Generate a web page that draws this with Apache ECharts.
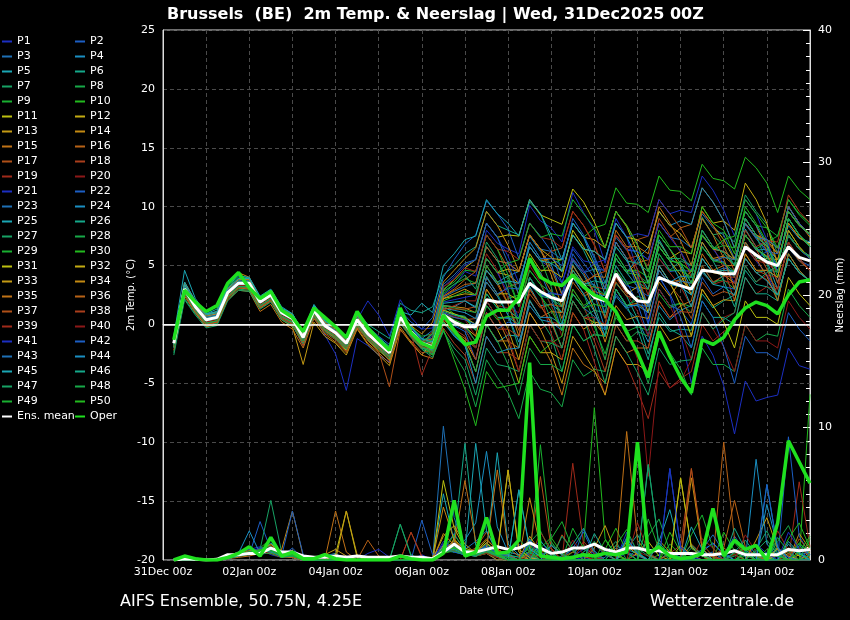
<!DOCTYPE html>
<html><head><meta charset="utf-8">
<script src="https://cdn.jsdelivr.net/npm/echarts@6/dist/echarts.min.js"></script>
<style>html,body{margin:0;padding:0;background:#000;}#c{width:850px;height:620px;}</style>
</head><body><div id="c"></div>
<script>
// ---------- axes / labels ----------
const hours = [6,12,18,24,30,36,42,48,54,60,66,72,78,84,90,96,102,108,114,120,126,132,138,144,150,156,162,168,174,180,186,192,198,204,210,216,222,228,234,240,246,252,258,264,270,276,282,288,294,300,306,312,318,324,330,336,342,348,354,360];
const xTickLabels = ['31Dec 00z','02Jan 00z','04Jan 00z','06Jan 00z','08Jan 00z','10Jan 00z','12Jan 00z','14Jan 00z'];
const zeroLine = 0;
const memberColors = ['#1c2fc2','#1c5ec4','#1e70b6','#1a8fc2','#1aa6b4','#14a88a','#17a264','#17a848','#19b030','#22ba1e','#bcc010','#c4ac12','#c49a14','#c48a12','#c07216','#b86216','#b05018','#aa3e1c','#a02a1a','#8c1818'];

// ---------- ensemble mean / oper ----------
const meanT = [-1.6,3.0,1.5,0.4, 0.6,2.7,3.5,3.5, 1.9,2.5,1.0,0.5, -1.1,1.2,-0.1,-0.7, -1.6,0.4,-0.8,-1.6, -2.4,0.6,-0.6,-1.6, -1.9,0.8,0.2,-0.2, -0.2,2.1,1.9,1.9, 1.9,3.5,2.8,2.3, 2.0,4.1,3.3,2.3, 2.0,4.3,2.9,2.0, 1.9,4.0,3.6,3.3, 3.0,4.6,4.5,4.3, 4.3,6.6,5.9,5.3, 5.0,6.6,5.7,5.4];
const operT = [-1.3,2.9,1.9,1.1, 1.6,3.5,4.4,3.1, 2.2,2.8,1.2,0.6, -0.6,1.4,0.6,-0.2, -1.1,1.1,-0.3,-1.3, -2.2,1.4,-0.7,-1.6, -2.0,0.8,-0.5,-1.7, -1.5,0.7,1.2,1.2, 2.3,5.6,4.0,3.5, 3.3,4.2,3.2,2.5, 2.1,1.1,-0.7,-2.4, -4.5,-0.6,-2.7,-4.5, -5.8,-1.3,-1.7,-1.1, 0.4,1.4,1.9,1.6, 0.9,2.5,3.6,3.8];
const meanP = [0,0.1,0.05,0, 0.05,0.4,0.4,0.5, 0.5,0.9,0.6,0.6, 0.3,0.2,0.2,0.3, 0.2,0.3,0.2,0.2, 0.2,0.3,0.2,0.2, 0.1,0.6,1.2,0.6, 0.6,0.8,1.0,0.8, 0.9,1.3,0.9,0.5, 0.6,0.9,0.9,1.2, 0.8,0.6,0.9,0.9, 0.7,0.7,0.5,0.5, 0.5,0.4,0.4,0.5, 0.7,0.4,0.4,0.4, 0.4,0.8,0.7,0.8];
const operP = [0,0.3,0.1,0, 0,0.2,0.5,1.0, 0.3,1.7,0.3,0.6, 0.1,0.1,0.4,0.1, 0,0,0,0, 0,0.3,0.1,0, 0,0.5,4.5,0.3, 0.6,3.2,0.5,0.6, 1.5,14.9,0.3,0.2, 0.1,0.2,0.4,0.3, 0.5,0.4,0.6,8.9, 0.5,1.0,0.3,0.1, 0.2,0.5,3.9,0.3, 1.5,0.8,1.1,0, 2.8,9.0,7.4,5.8];

// ---------- member 2m temperature ----------
const tP1 = [-1.2,3.4,1.8,0.6, 0.9,3.0,3.8,3.2, 1.6,2.2,0.6,0.0, -1.8,0.8,-0.9,-2.5, -5.6,-1.2,-1.8,-2.6, -3.2,0.2,-0.8,-1.5, -1.0,2.5,3.2,4.5, 4.1,8.0,6.9,6.4, 6.0,10.1,8.8,8.2, 7.0,11.2,9.5,8.0, 5.2,9.0,7.4,4.6, 0.2,4.1,2.5,-0.8, -5.0,-1.0,-2.6,-5.2, -9.3,-4.8,-6.5,-6.2, -6.0,-2.0,-3.5,-3.8];
const tP2 = [-1.9,2.8,1.2,0.2, 0.5,2.5,3.3,3.6, 2.1,2.7,1.3,0.8, -0.8,1.6,0.3,-0.2, -1.1,0.9,-0.2,-1.0, -1.7,1.2,0.2,-0.4, 0.6,4.0,5.5,6.8, 7.6,10.5,9.4,8.1, 5.6,8.6,7.5,6.2, 3.5,6.4,5.2,4.0, 1.5,4.6,3.3,3.0, 2.4,5.6,4.5,4.6, 4.5,7.5,6.4,6.2, 5.5,8.6,7.3,6.1, 3.6,6.5,5.4,5.0];
const tP3 = [-1.3,3.3,1.7,0.9, 1.0,3.1,3.9,3.7, 2.2,2.9,1.2,0.6, -0.9,1.5,0.1,-0.5, -1.2,0.7,-0.4,-1.3, -2.0,0.9,-0.3,-1.2, -1.6,1.0,0.3,-0.3, -1.4,1.6,0.6,0.5, 0.6,3.4,2.4,2.6, 2.5,5.5,4.4,4.7, 4.6,7.4,6.3,6.2, 5.5,8.6,7.4,7.2, 6.5,9.4,8.2,7.6, 5.6,8.5,7.3,6.3, 4.4,7.6,6.4,5.8];
const tP4 = [-2.0,2.6,1.0,-0.2, 0.2,2.4,3.2,3.1, 1.5,2.1,0.6,0.2, -1.5,0.9,-0.4,-1.0, -2.1,0.1,-1.2,-2.0, -2.8,0.3,-1.0,-2.0, -2.3,1.6,1.5,2.0, 1.4,4.6,3.6,4.1, 4.5,7.5,6.2,5.1, 2.6,5.4,4.2,2.6, -0.4,2.4,1.3,0.4, -1.5,1.6,0.4,1.2, 1.6,4.4,3.5,4.2, 4.5,7.6,6.3,6.4, 5.5,8.4,7.3,7.0];
const tP5 = [-1.0,4.6,2.2,0.9, 1.3,3.4,4.2,3.9, 2.3,2.8,1.1,0.3, -1.4,1.0,-0.3,-0.9, -1.9,0.2,-1.0,-1.8, -2.6,0.4,-0.8,-1.9, -2.5,0.2,-1.0,-1.8, -4.0,0.0,-1.5,-0.9, -1.0,3.2,1.6,1.7, 1.0,5.1,3.5,3.4, 2.0,6.0,4.6,4.4, 3.0,7.2,5.6,5.0, 3.0,7.0,5.5,5.3, 4.0,8.1,6.6,5.4, 3.0,7.0,5.6,4.6];
const tP6 = [-1.5,3.1,1.6,0.5, 0.7,2.9,3.7,3.4, 1.8,2.3,0.8,0.4, -1.0,1.4,0.3,-0.3, -1.0,1.1,0.0,-0.6, -1.2,1.8,1.2,1.0, 1.5,4.2,5.0,6.0, 6.6,9.6,8.4,8.0, 7.6,10.4,9.4,7.2, 4.5,7.6,6.3,4.4, 0.6,3.5,2.4,0.5, -2.5,0.6,-0.6,-0.4, -0.5,2.6,1.4,2.0, 2.5,5.6,4.4,4.6, 4.5,7.5,6.4,5.8];
const tP7 = [-2.4,2.2,0.9,-0.1, 0.1,2.2,3.0,2.9, 1.4,2.0,0.5,0.0, -1.6,0.7,-0.5,-1.1, -1.9,0.0,-1.1,-1.9, -2.7,0.1,-1.1,-2.0, -2.4,1.3,0.8,0.5, 0.0,4.1,2.6,0.8, -2.0,2.1,0.5,-1.0, -4.0,0.0,-1.4,-0.8, -1.0,3.0,1.5,2.4, 2.0,6.0,4.6,5.4, 5.0,9.1,7.6,7.8, 7.0,11.0,9.6,8.5, 6.0,10.0,8.5,7.6];
const tP8 = [-1.8,2.9,1.3,0.2, 0.4,2.5,3.3,3.2, 1.6,2.2,0.7,0.1, -1.3,1.0,-0.3,-1.0, -1.8,0.2,-1.0,-1.9, -2.7,0.3,-1.0,-2.1, -2.6,-0.5,-2.5,-4.0, -7.0,-3.0,-4.5,-5.8, -8.0,-4.0,-5.5,-5.8, -7.0,-3.0,-4.4,-3.8, -4.0,0.0,-1.4,-0.6, -1.0,3.0,1.6,1.8, 1.0,5.0,3.6,3.8, 3.0,7.0,5.6,5.6, 5.0,9.0,7.6,6.8];
const tP9 = [-1.7,3.2,1.5,0.4, 0.8,3.0,3.6,3.6, 2.0,2.6,1.0,0.4, -1.2,1.1,-0.2,-0.8, -1.7,0.3,-0.9,-1.6, -2.3,0.8,-0.3,-1.0, -0.8,2.6,3.4,3.9, 3.5,6.6,5.4,3.8, 1.5,4.6,3.4,1.6, -0.5,2.6,1.4,-0.2, -2.5,0.6,-0.6,-0.2, -0.5,2.6,1.4,1.8, 1.5,4.6,3.4,4.2, 4.5,7.6,6.4,7.0, 7.5,10.6,9.3,8.4];
const tP10 = [-1.4,3.3,1.9,0.8, 1.0,3.2,4.0,3.9, 2.3,2.8,1.3,0.9, -0.7,1.6,0.4,-0.2, -1.1,0.9,-0.2,-1.1, -1.9,1.0,-0.1,-1.2, -1.4,1.6,0.9,0.5, -0.5,2.6,1.4,2.2, 2.5,5.6,4.4,5.2, 5.5,8.6,7.4,8.2, 8.5,11.6,10.3,10.2, 9.5,12.6,11.4,11.3, 10.5,13.6,12.4,12.2, 11.5,14.2,13.3,12.0, 9.5,12.6,11.4,10.6];
const tP11 = [-1.9,2.7,1.2,0.1, 0.3,2.5,3.4,3.3, 1.8,2.4,0.9,0.3, -1.6,0.8,-0.5,-1.2, -2.2,-0.1,-1.3,-2.2, -3.0,0.2,-0.8,-1.5, -0.8,2.9,3.8,4.8, 5.5,8.6,7.4,7.6, 7.5,10.6,9.3,8.9, 8.5,11.5,10.4,8.7, 6.5,9.6,8.3,6.1, 3.5,6.6,5.4,4.2, 2.5,5.6,4.4,4.6, 4.5,7.6,6.4,5.8, 4.5,7.6,6.4,5.7];
const tP12 = [-1.5,3.1,1.4,0.3, 0.5,2.6,3.4,3.5, 1.9,2.4,0.9,0.4, -1.2,1.1,-0.2,-0.9, -1.7,0.3,-0.9,-1.7, -2.5,0.5,-0.7,-1.7, -2.2,0.2,-0.6,-1.4, -3.0,1.0,-0.4,-2.2, -5.0,-1.0,-2.4,-2.4, -3.0,1.0,-0.4,0.2, 0.0,4.0,2.6,3.2, 3.0,7.0,5.6,6.2, 6.0,10.0,8.6,8.8, 8.0,12.0,10.6,8.6, 5.0,9.0,7.6,6.6];
const tP13 = [-1.7,2.8,1.1,0.0, 0.2,2.3,3.1,3.0, 1.4,2.0,0.4,-0.2, -3.4,0.2,-1.0,-1.6, -2.6,-0.4,-1.7,-2.6, -3.5,-0.4,-1.6,-2.6, -1.5,2.2,2.6,3.0, 2.5,5.6,4.4,4.2, 3.5,6.6,5.4,5.6, 5.5,8.6,7.4,7.2, 6.5,9.6,8.4,6.8, 4.5,7.6,6.4,4.8, 2.5,5.6,4.4,4.2, 3.5,6.6,5.4,5.6, 5.5,8.6,7.4,6.8];
const tP14 = [-1.3,3.6,2.0,0.8, 1.1,3.5,4.4,4.0, 2.3,2.9,1.3,0.7, -0.9,1.4,0.1,-0.5, -1.4,0.5,-0.6,-1.4, -2.2,0.7,-0.5,-1.5, -1.6,1.6,1.5,1.4, 1.0,5.0,3.6,1.8, -1.0,3.0,1.6,0.2, -2.0,2.0,0.6,0.2, -1.0,3.0,1.6,1.8, 1.0,5.0,3.6,3.8, 3.0,7.0,5.6,5.8, 5.0,9.0,7.6,7.2, 6.0,10.0,8.6,7.4];
const tP15 = [-2.2,2.4,1.0,-0.2, 0.0,2.1,2.9,2.8, 1.1,1.7,0.2,-0.4, -2.0,0.5,-0.8,-1.5, -2.4,-0.3,-1.6,-2.4, -3.3,-0.2,-1.5,-2.6, -2.9,0.0,-0.6,-1.2, -2.0,2.0,0.6,-1.4, -4.0,0.0,-1.4,-3.2, -6.0,-2.0,-3.4,-4.0, -5.0,-1.0,-2.4,-2.0, -2.0,2.0,0.6,1.6, 2.0,6.0,4.6,5.0, 5.0,9.0,7.6,7.0, 6.0,10.0,8.6,7.6];
const tP16 = [-1.6,2.9,1.3,0.3, 0.5,2.7,3.5,3.4, 1.7,2.3,0.8,0.2, -1.5,0.9,-0.4,-1.0, -2.0,0.1,-1.1,-2.0, -3.1,0.2,-1.0,-2.0, -1.2,2.4,3.0,3.8, 4.5,7.6,6.4,4.8, 2.5,5.6,4.4,2.8, 0.5,3.6,2.4,2.8, 2.5,5.6,4.4,5.2, 5.5,8.6,7.4,8.2, 8.5,11.6,10.4,8.8, 6.5,9.6,8.4,6.2, 3.5,6.6,5.4,4.6];
const tP17 = [-1.9,2.6,1.1,0.0, 0.2,2.3,3.1,3.1, 1.4,2.0,0.5,0.0, -1.8,0.6,-0.7,-1.3, -2.3,-0.2,-1.4,-2.3, -5.3,-0.5,-1.4,-2.4, -2.2,0.8,0.6,0.4, 0.5,3.6,2.4,3.2, 3.5,6.6,5.4,6.2, 6.5,9.6,8.4,6.8, 4.5,7.6,6.4,4.2, 1.5,4.6,3.4,2.2, 0.5,3.6,2.4,2.8, 2.5,5.6,4.4,3.8, 2.5,5.6,4.4,3.7];
const tP18 = [-1.6,3.0,1.4,0.4, 0.6,2.6,3.5,3.4, 1.8,2.4,0.9,0.4, -1.1,1.1,-0.2,-0.8, -1.6,0.3,-0.9,-1.7, -2.4,0.5,-0.7,-1.6, -2.4,-0.3,-1.6,-2.6, -5.0,-1.0,-2.4,-2.4, -3.0,1.0,-0.4,0.2, 0.0,4.0,2.6,3.2, 3.0,7.0,5.6,5.8, 5.0,9.0,7.6,6.2, 4.0,8.0,6.6,4.8, 2.0,6.0,4.6,4.2, 3.0,7.0,5.6,4.6];
const tP19 = [-1.4,3.2,1.7,0.6, 0.8,2.8,3.6,3.6, 2.0,2.6,1.1,0.6, -1.0,1.3,0.0,-0.7, -1.5,0.4,-0.8,-1.5, -2.3,0.6,-0.7,-4.3, -2.0,1.2,1.6,2.0, 2.0,6.0,4.6,2.2, 0.0,4.0,2.6,-0.8, -3.0,1.0,-0.4,-3.2, -6.0,-2.0,-3.4,-5.6, -8.0,-4.0,-5.4,-4.6, -4.0,0.0,-1.4,-0.6, 0.0,4.0,2.6,3.2, 3.0,7.0,5.6,4.6];
const tP20 = [-1.7,2.9,1.4,0.3, 0.5,2.6,3.4,3.4, 1.8,2.4,0.9,0.5, -1.1,1.2,-0.1,-0.7, -1.7,0.3,-0.9,-1.7, -2.5,0.6,-0.6,-1.7, -2.0,1.0,0.7,0.4, -1.0,3.0,1.6,1.4, 1.0,5.0,3.6,1.6, -1.0,3.0,1.6,-0.8, -3.0,1.0,-0.4,-2.9, -12.9,-3.2,-5.4,-4.8, -3.0,1.0,-0.4,0.6, 1.0,5.0,3.6,4.2, 4.0,8.0,6.6,5.6];
const tP21 = [-1.5,3.0,1.5,0.4, 0.6,2.8,3.6,3.5, 1.9,2.5,1.0,0.5, -1.1,1.3,-0.1,-0.7, -1.6,0.4,2.0,0.8, -1.0,2.1,0.6,-0.4, -0.3,3.2,4.0,5.0, 5.5,8.6,7.4,5.8, 3.5,6.6,5.4,4.8, 3.5,6.6,5.4,5.2, 4.5,7.6,6.4,6.2, 5.5,8.6,7.4,6.2, 4.5,7.6,6.4,5.2, 3.5,6.6,5.4,4.2, 2.5,5.6,4.4,3.7];
const tP22 = [-1.8,2.8,1.2,0.2, 0.4,2.5,3.3,3.3, 1.7,2.3,0.8,0.3, -1.3,1.0,-0.3,-0.9, -1.8,0.2,-1.0,-1.8, -2.6,0.4,-0.8,-1.8, -2.1,0.5,-0.1,-0.6, -3.0,1.0,-0.4,0.2, 0.0,4.0,2.6,2.6, 2.0,6.0,4.6,3.2, 1.0,5.0,3.6,1.8, -1.0,3.0,1.6,1.2, 0.0,4.0,2.6,3.2, 3.0,7.0,5.6,6.2, 6.0,10.0,8.6,7.6];
const tP23 = [-1.3,3.4,1.8,0.7, 0.9,3.0,3.8,3.8, 2.1,2.7,1.2,0.7, -0.9,1.4,0.1,-0.5, -1.3,0.6,-0.5,-1.3, -2.1,0.9,-0.3,-1.3, -1.2,2.3,2.8,3.2, 3.5,6.6,5.4,5.2, 4.5,7.6,6.4,6.2, 5.5,8.6,7.4,5.8, 3.5,6.6,5.4,3.8, 1.5,4.6,3.4,3.2, 2.5,5.6,4.4,4.8, 4.5,7.6,6.4,5.7, 4.5,7.6,6.4,5.6];
const tP24 = [-1.6,3.1,1.6,0.5, 0.7,2.8,3.6,3.5, 1.9,2.5,1.0,0.5, -1.1,1.2,-0.1,-0.7, -1.6,0.4,-0.8,-1.6, -2.4,0.6,-0.6,-1.6, -1.7,1.4,1.2,1.0, 0.5,3.6,2.4,0.8, -1.5,1.6,0.4,0.2, -0.5,2.6,1.4,2.2, 2.5,5.6,4.4,5.6, 6.5,9.6,8.4,8.8, 8.5,11.6,10.4,8.8, 6.5,9.6,8.4,6.8, 4.5,7.6,6.4,5.7];
const tP25 = [-1.2,3.6,2.0,0.9, 1.1,3.3,4.1,4.0, 2.4,3.0,1.5,0.9, -0.6,1.7,0.4,-0.2, -1.1,0.8,-0.3,-1.1, -1.9,1.1,0.8,1.8, 1.0,5.0,6.0,7.2, 7.5,10.6,9.4,8.6, 7.5,10.6,9.4,7.6, 5.5,8.6,7.4,5.2, 2.5,5.6,4.4,3.2, 1.5,4.6,3.4,3.2, 2.5,5.6,4.4,4.6, 4.5,7.6,6.4,5.7, 4.5,7.6,6.4,5.6];
const tP26 = [-1.9,2.7,1.1,0.1, 0.3,2.4,3.2,3.2, 1.6,2.2,0.7,0.2, -1.4,0.9,-0.4,-1.0, -1.9,0.1,-1.1,-1.9, -2.7,0.3,-0.9,-1.9, -2.2,0.6,0.0,-0.4, -2.0,2.0,0.6,0.6, 0.0,4.0,2.6,2.2, 1.0,5.0,3.6,1.6, -1.0,3.0,1.6,-0.4, -3.0,1.0,-0.4,-0.9, -2.0,2.0,0.6,0.6, 0.0,4.0,2.6,2.6, 2.0,6.0,4.6,3.6];
const tP27 = [-2.6,2.1,0.8,-0.3, -0.1,2.0,2.9,2.8, 1.3,1.9,0.4,-0.1, -1.6,0.7,-0.6,-1.2, -2.1,-0.1,-1.3,-2.1, -2.9,0.1,-1.1,-2.1, -2.8,-0.6,-2.0,-3.0, -6.0,-2.0,-3.4,-3.6, -4.0,0.0,-1.4,-1.6, -2.0,2.0,0.6,1.2, 1.0,5.0,3.6,3.6, 3.0,7.0,5.6,5.6, 5.0,9.0,7.6,6.6, 5.0,9.0,7.6,5.2, 2.0,6.0,4.6,3.6];
const tP28 = [-1.4,3.3,1.7,0.6, 0.8,2.9,3.7,3.6, 2.0,2.6,1.1,0.6, -1.0,1.3,0.0,-0.6, -1.5,0.5,-0.7,-1.5, -2.3,0.7,-0.5,-1.5, -1.8,1.6,1.4,1.2, 1.0,5.0,3.6,3.6, 3.0,7.0,5.6,3.2, 0.0,4.0,2.6,0.2, -3.0,1.0,-0.4,-2.4, -5.0,-1.0,-2.4,-3.8, -6.0,-2.0,-3.4,-3.4, -4.0,0.0,-1.4,-0.8, -1.0,3.0,1.6,0.6];
const tP29 = [-1.6,2.9,1.4,0.3, 0.5,2.6,3.4,3.4, 1.8,2.4,0.9,0.4, -1.2,1.1,-0.2,-0.8, -1.7,0.3,-0.9,-1.7, -2.5,0.5,-0.7,-1.7, -0.8,3.0,3.6,4.6, 4.5,7.6,6.4,4.2, 1.5,4.6,3.4,2.7, 1.5,4.6,3.4,3.2, 2.5,5.6,4.4,4.2, 3.5,6.6,5.4,5.2, 4.5,7.6,6.4,6.7, 6.5,9.6,8.4,8.2, 7.5,10.6,9.4,8.6];
const tP30 = [-1.7,2.8,1.3,0.2, 0.4,2.5,3.3,3.3, 1.7,2.3,0.8,0.3, -1.3,1.0,-0.3,-0.9, -1.8,0.2,-1.0,-1.8, -2.6,0.4,-0.8,-1.8, -2.6,-0.4,-3.0,-5.5, -8.6,-4.0,-5.4,-5.2, -5.0,-1.0,-2.4,-1.6, -1.0,3.0,1.6,2.2, 2.0,6.0,4.6,4.6, 4.0,8.0,6.6,6.6, 6.0,10.0,8.6,8.0, 6.0,10.0,8.6,7.0, 4.0,8.0,6.6,5.6];
const tP31 = [-1.5,3.0,1.5,0.4, 0.6,2.8,3.6,3.5, 1.9,2.5,1.0,0.5, -1.1,1.2,-0.1,-0.7, -1.6,0.4,-0.8,-1.6, -2.4,0.6,-0.6,-1.6, -1.8,1.2,0.9,0.6, 0.0,4.0,2.6,2.6, 2.0,6.0,4.6,4.6, 4.0,8.0,6.6,5.0, 3.0,7.0,5.6,3.6, 1.0,5.0,3.6,1.6, -1.0,3.0,1.6,0.2, -2.0,2.0,0.6,0.6, 0.0,4.0,2.6,1.6];
const tP32 = [-1.8,2.8,1.3,0.2, 0.4,2.6,3.4,3.3, 1.7,2.3,0.8,0.3, -1.3,1.0,-0.3,-0.9, -1.8,0.2,-1.0,-1.8, -2.6,0.4,-0.8,-1.8, -1.4,2.2,2.4,2.6, 2.5,5.6,4.4,4.7, 4.5,7.6,6.4,5.7, 4.5,7.6,6.4,6.2, 5.5,8.6,7.4,7.2, 6.5,9.6,8.4,7.7, 6.5,9.6,8.4,7.2, 5.5,8.6,7.4,7.2, 6.5,9.6,8.4,7.7];
const tP33 = [-1.6,3.0,1.5,0.4, 0.6,2.7,3.5,3.5, 1.9,2.5,1.0,0.5, -1.1,1.2,-0.1,-0.7, -1.6,0.4,-0.8,-1.6, -2.4,0.6,-0.6,-1.6, -2.0,0.9,0.3,-0.2, -1.0,3.0,1.6,-0.4, -3.0,1.0,-0.4,-2.4, -5.0,-1.0,-2.4,-3.9, -6.0,-2.0,-3.4,-3.4, -4.0,0.0,-1.4,-1.0, -1.0,3.0,1.6,2.1, 2.0,6.0,4.6,4.6, 4.0,8.0,6.6,5.6];
const tP34 = [-1.3,3.4,1.8,0.7, 0.9,3.0,3.8,3.8, 2.2,2.8,1.3,0.8, -0.8,1.5,0.2,-0.4, -1.3,0.7,-0.5,-1.3, -2.1,0.9,-0.1,-0.8, 0.2,3.6,4.6,5.6, 6.5,9.6,8.4,6.7, 4.5,7.6,6.4,4.2, 1.5,4.6,3.4,1.2, -1.5,1.6,0.4,0.7, 0.5,3.6,2.4,3.7, 4.5,7.6,6.4,6.2, 5.5,8.6,7.4,6.7, 5.5,8.6,7.4,6.7];
const tP35 = [-1.7,2.9,1.4,0.3, 0.5,2.6,3.4,3.4, 1.8,2.4,0.9,0.4, -1.2,1.1,-0.2,-0.8, -1.7,0.3,-0.9,-1.7, -2.5,0.5,-0.7,-1.7, -2.3,0.3,-0.8,-1.5, -4.0,0.0,-1.4,-1.4, -2.0,2.0,0.6,1.1, 1.0,5.0,3.6,4.1, 4.0,8.0,6.6,6.6, 6.0,10.0,8.6,7.1, 5.0,9.0,7.6,5.6, 3.0,7.0,5.6,4.1, 2.0,6.0,4.6,3.6];
const tP36 = [-1.4,3.2,1.6,0.5, 0.7,2.8,3.6,3.6, 2.0,2.6,1.1,0.6, -1.0,1.3,0.0,-0.6, -1.5,0.5,-0.7,-1.5, -2.3,0.7,-0.5,-1.5, -1.2,2.4,2.9,3.4, 3.5,6.6,5.4,5.2, 4.5,7.6,6.4,4.7, 2.5,5.6,4.4,2.7, 0.5,3.6,2.4,2.2, 1.5,4.6,3.4,3.7, 3.5,6.6,5.4,5.7, 5.5,8.6,7.4,7.2, 6.5,9.6,8.4,7.6];
const tP37 = [-1.9,2.6,1.1,0.0, 0.2,2.3,3.1,3.1, 1.5,2.1,0.6,0.1, -1.5,0.8,-0.5,-1.1, -2.0,0.0,-1.2,-2.0, -2.8,0.2,-1.0,-2.0, -1.7,1.4,1.3,1.3, 1.5,4.6,3.4,1.7, -0.5,2.6,1.4,1.7, 1.5,4.6,3.4,4.2, 4.5,7.6,6.4,7.2, 7.5,10.6,9.4,8.2, 6.5,9.6,8.4,6.7, 4.5,7.6,6.4,4.7, 2.5,5.6,4.4,3.7];
const tP38 = [-1.5,3.1,1.5,0.4, 0.6,2.7,3.5,3.5, 1.9,2.5,1.0,0.5, -1.1,1.2,-0.1,-0.7, -1.6,0.4,-0.8,-1.6, -2.4,0.6,-0.6,-1.6, -2.0,0.4,-0.4,-1.0, -3.0,1.0,-0.4,-0.4, -1.0,3.0,1.6,0.1, -2.0,2.0,0.6,-1.4, -4.0,0.0,-1.4,-1.4, -2.0,2.0,0.6,1.1, 1.0,5.0,3.6,4.1, 4.0,8.0,6.6,7.1, 7.0,11.0,9.6,8.6];
const tP39 = [-1.6,3.0,1.4,0.3, 0.5,2.6,3.5,3.4, 1.8,2.4,0.9,0.4, -1.2,1.1,-0.2,-0.8, -1.7,0.3,-0.9,-1.7, -2.5,0.5,-0.7,-1.7, -0.6,3.2,3.8,4.8, 4.5,7.6,6.4,6.2, 5.5,8.6,7.4,7.2, 6.5,9.6,8.4,6.7, 4.5,7.6,6.4,4.7, 2.5,5.6,4.4,3.2, 1.5,4.6,3.4,3.7, 3.5,6.6,5.4,5.2, 4.5,7.6,6.4,5.7];
const tP40 = [-1.8,2.8,1.3,0.2, 0.4,2.5,3.3,3.3, 1.7,2.3,0.8,0.3, -1.3,1.0,-0.3,-0.9, -1.8,0.2,-1.0,-1.8, -2.6,0.4,-0.8,-1.8, -2.1,0.7,0.1,-0.4, -2.0,2.0,0.6,-0.9, -4.0,0.0,-1.4,-1.4, -2.0,2.0,0.6,0.6, 0.0,4.0,2.6,1.1, -1.0,3.0,1.6,-0.4, -3.0,1.0,-0.4,-1.9, -4.0,0.0,-1.4,-1.4, -2.0,2.0,0.6,-0.4];
const tP41 = [-1.5,3.1,1.5,0.5, 0.7,2.8,3.6,3.5, 1.9,2.5,1.0,0.5, -1.1,1.2,-0.1,-0.7, -1.6,0.4,-0.8,-1.6, -2.4,0.6,-0.6,-1.6, -1.4,1.9,2.1,2.3, 2.5,5.6,4.4,2.7, 0.5,3.6,2.4,2.7, 2.5,5.6,4.4,5.2, 5.5,8.6,7.4,7.7, 7.5,10.6,9.4,9.7, 9.5,12.6,11.4,9.7, 7.5,10.6,9.4,7.2, 4.5,7.6,6.4,5.6];
const tP42 = [-1.7,2.9,1.4,0.3, 0.5,2.6,3.4,3.4, 1.8,2.4,0.9,0.4, -1.2,1.1,-0.2,-0.8, -1.7,0.3,-0.9,-1.7, -2.5,0.5,-0.7,-1.7, -1.9,1.0,0.6,0.4, 0.0,4.0,2.6,3.1, 3.0,7.0,5.6,5.6, 5.0,9.0,7.6,5.6, 3.0,7.0,5.6,3.1, 0.0,4.0,2.6,0.6, -2.0,2.0,0.6,-1.9, -5.0,-1.0,-2.4,-2.4, -3.0,1.0,-0.4,-1.4];
const tP43 = [-1.4,3.2,1.7,0.6, 0.8,2.9,3.7,3.6, 2.0,2.6,1.1,0.6, -1.0,1.3,0.0,-0.6, -1.5,0.5,-0.7,-1.5, -2.3,0.7,-0.5,-1.2, -0.5,3.4,4.2,5.2, 5.5,8.6,7.4,5.2, 2.5,5.6,4.4,2.2, -0.5,2.6,1.4,0.7, -0.5,2.6,1.4,1.7, 1.5,4.6,3.4,3.7, 3.5,6.6,5.4,5.7, 5.5,8.6,7.4,7.2, 6.5,9.6,8.4,7.6];
const tP44 = [-1.6,3.0,1.5,0.4, 0.6,2.7,3.5,3.5, 1.9,2.5,1.0,0.5, -1.1,1.2,-0.1,-0.7, -1.6,0.4,-0.8,-1.6, -2.4,0.6,-0.6,-1.6, -2.2,0.2,-0.9,-1.8, -5.0,-1.0,-2.4,-2.1, -2.0,2.0,0.6,0.6, 0.0,4.0,2.6,1.1, -1.0,3.0,1.6,1.6, 1.0,5.0,3.6,4.1, 4.0,8.0,6.6,6.1, 5.0,9.0,7.6,6.6, 5.0,9.0,7.6,6.6];
const tP45 = [-1.3,3.4,1.9,0.8, 1.0,3.1,3.9,3.9, 2.3,2.9,1.4,0.9, -0.7,1.6,0.3,-0.3, -1.2,0.8,-0.4,-1.2, -2.0,1.0,-0.2,-1.2, -1.5,1.8,1.9,2.0, 1.5,4.6,3.4,3.7, 3.5,6.6,5.4,5.2, 4.5,7.6,6.4,6.2, 5.5,8.6,7.4,5.7, 3.5,6.6,5.4,3.7, 1.5,4.6,3.4,3.2, 2.5,5.6,4.4,3.7, 2.5,5.6,4.4,3.7];
const tP46 = [-1.7,2.9,1.4,0.3, 0.5,2.6,3.4,3.4, 1.8,2.4,0.9,0.4, -1.2,1.1,-0.2,-0.8, -1.7,0.3,-0.9,-1.7, -2.5,0.5,-0.7,-1.7, -1.8,1.1,0.8,0.7, -0.5,2.6,1.4,1.2, 0.5,3.6,2.4,2.2, 1.5,4.6,3.4,3.7, 3.5,6.6,5.4,5.2, 4.5,7.6,6.4,5.2, 3.5,6.6,5.4,3.7, 1.5,4.6,3.4,3.2, 2.5,5.6,4.4,3.7];
const tP47 = [-1.5,3.1,1.6,0.5, 0.7,2.8,3.6,3.6, 2.0,2.6,1.1,0.6, -1.0,1.3,0.0,-0.6, -1.5,0.5,-0.7,-1.5, -2.3,0.7,-0.5,-1.5, -0.8,2.8,3.4,4.2, 3.0,7.0,5.6,2.9, 0.0,4.0,2.6,0.4, -2.0,2.0,0.6,-2.1, -5.0,-1.0,-2.4,-4.1, -6.0,-2.0,-3.4,-3.1, -3.0,1.0,-0.4,0.4, 1.0,5.0,3.6,4.4, 5.0,9.0,7.6,6.6];
const tP48 = [-1.9,2.7,1.2,0.1, 0.3,2.4,3.2,3.2, 1.6,2.2,0.7,0.2, -1.4,0.9,-0.4,-1.0, -1.9,0.1,-1.1,-1.9, -2.7,0.3,-0.9,-1.9, -2.3,0.2,-0.8,-1.6, -4.0,0.0,-1.4,-3.4, -6.0,-2.0,-3.4,-3.4, -4.0,0.0,-1.4,-0.9, -1.0,3.0,1.6,2.1, 2.0,6.0,4.6,4.6, 4.0,8.0,6.6,6.1, 5.0,9.0,7.6,6.6, 5.0,9.0,7.6,6.6];
const tP49 = [-1.6,3.0,1.5,0.4, 0.6,2.7,3.5,3.5, 1.9,2.5,1.0,0.5, -1.1,1.2,-0.1,-0.7, -1.6,0.4,-0.8,-1.6, -2.4,0.6,-0.6,-1.6, -1.3,2.0,2.4,2.8, 2.5,5.6,4.4,5.2, 5.5,8.6,7.4,7.7, 7.5,10.6,9.4,8.2, 6.5,9.6,8.4,6.7, 4.5,7.6,6.4,5.2, 3.5,6.6,5.4,5.2, 4.5,7.6,6.4,5.7, 4.5,7.6,6.4,5.7];
const tP50 = [-1.5,3.0,1.5,0.4, 0.6,2.7,3.5,3.5, 1.9,2.5,1.0,0.5, -1.1,1.2,-0.1,-0.7, -1.6,0.4,-0.8,-1.6, -2.4,0.6,-0.6,-1.6, -1.9,0.9,0.4,0.0, -1.5,1.6,0.4,0.7, 0.5,3.6,2.4,1.2, -0.5,2.6,1.4,1.7, 1.5,4.6,3.4,3.7, 3.5,6.6,5.4,5.2, 4.5,7.6,6.4,7.2, 7.5,10.6,9.4,8.2, 6.5,9.6,8.4,7.7];

// ---------- member precipitation (mm / 6h) ----------
const rP1 = [0,0,0,0,0,0.2,0.5,0.3,0.8,0.4, 0.2,0.6,0,0,0,0.1,0.3,0,0,0, 0,0,0,0.4,0,1.2,0.8,0.3,0.5,1.0, 0.4,0,0,0.6,1.5,0.3,0,0,0.2,0, 0,0,0,0,0,0,0,0,0.3,0.8, 1.2,0.5,0,0,0,0,0,0,0,0];
const rP2 = [0,0,0,0,0,0.3,0.6,0.4,2.9,0.8, 0.3,0.9,0.1,0,0,0.2,0.1,0,0,0, 0,0,0,0,0,0.8,2.0,0.6,0.4,1.3, 0.5,0.2,0,1.4,0.6,0,0,0.9,2.1,0.4, 0,0,0.6,0.3,0,0,0,0,0,0, 0,0.4,1.8,0.6,0,0,0,0,0,0];
const rP3 = [0,0,0,0,0,0.1,0.4,0.5,0.6,0.7, 0.2,0.4,0,0,0,0,0,0,0,0, 0,0,0,0,0,10.1,3.2,0.8,1.4,2.2, 0.6,0,0,0.5,0.4,0,0.3,0.8,0,0, 0.2,1.1,0.6,0,0,0,0.5,0,0,0.4, 0.6,0,0,0,0,0,0,0,0,0];
const rP4 = [0,0,0,0,0,0.2,0.3,0.6,0.4,1.3, 0.5,0.2,0,0,0.3,0.5,0,0,0,0, 0,0,0,0,0,0.9,0.6,1.5,2.8,8.2, 2.5,0.6,0.4,0.2,0,0,0,0,0.6,1.2, 0.4,0,0,0,0,0,0,0,0,0, 0,0,0,0,7.6,1.2,0.3,0,0,0];
const rP5 = [0,0,0,0,0,0.1,0.6,0.9,0.5,1.6, 0.4,0.3,0,0,0,0,0,0,0,0, 0,0,0,0,0,5.0,1.4,0.5,0.3,0.7, 8.1,1.2,0.4,0,0,0.3,0,0,0,0, 0,0,0.8,0.5,0,0,0.6,0.2,0,0, 0,0,0,0.5,1.1,0.3,0,0,0,0.4];
const rP6 = [0,0,0,0,0,0.3,0.4,0.5,0.7,0.9, 0.3,0.5,0.1,0,0,0,0.2,0,0,0, 0,0,0,0,0,0.6,1.5,8.8,1.1,0.5, 0,0,5.3,0.9,0.2,0,0,0,0,0, 0,0,0,0,7.2,1.0,0,0,0,0, 0,0,0,0,0,0,0.3,0.8,0,0];
const rP7 = [0,0,0,0,0,0.2,0.5,0.6,0.8,4.5, 0.6,0.2,0,0,0,0,0,0,0,0, 0,2.7,0.4,0,0,0.5,0.9,0.4,0.6,1.1, 0.3,0,0,0,0,0,0,0,0,0, 0.5,1.4,0,0,0,0,0,0,0,0, 0,0,0,0,0,0.6,0.9,0.2,0,0];
const rP8 = [0,0,0,0,0,0.1,0.3,0.4,0.5,0.6, 0.2,0.3,0,0,0,0,0,0,0,0, 0,0,0,0,0,1.1,0.8,0.5,0.3,0.6, 0.4,0.2,0.3,0.6,0.9,0.2,0.1,0,0,0, 0,0,0,0,0,0,0,0,0,0, 0,0,0,0.3,0.6,0.2,0,0,0,0];
const rP9 = [0,0,0,0,0,0.3,0.4,0.7,0.5,1.0, 0.4,0.6,0,0,0,0,0,0,0,0, 0,0,0,0,0,0.8,1.2,0.6,0.4,0.9, 0.3,0,0,0,8.7,1.4,0.3,0,0,0, 0,0,0,0,0,0.4,0.8,0,0,0, 0,0,0,0,0,0,0,0.5,1.2,0.6];
const rP10 = [0,0,0,0,0.1,0.2,0.6,0.5,0.9,1.6, 0.3,0.4,0,0,0,0,0,0,0,0, 0,0,0,0,0,0.7,1.9,0.8,0.5,1.2, 0.6,0.3,0,0.4,0,0,0,0.6,1.1,11.5, 1.6,0.3,0,0,0,0,0,0,0,0, 0,0,0.5,0.9,0.3,0,0,0,0,12.5];
const rP11 = [0,0,0,0,0,0.2,0.3,0.5,0.4,0.8, 0.2,0.3,0,0,0,0.4,3.7,0.2,0,0, 0,0,0,0,0,6.0,2.4,0.9,0.6,1.5, 0.8,0.4,0,0,0,0,0,0,0,0, 0,0,0,0.5,1.4,0.3,0,0,0,0, 0,0,0,0,0,0,0,0,0.4,0.2];
const rP12 = [0,0,0,0,0,0.1,0.5,0.8,0.6,1.2, 0.5,0.7,0,0,0,0,0,0,0,0, 0,0,0,0,0,0.4,1.6,0.7,0.3,0.5, 0.4,6.8,0.6,0,0,0,0,0,0,0, 0,0,0,0,0,0,0,6.2,1.0,0.3, 0,0,0,0,0,0,0,0,0,0];
const rP13 = [0,0,0,0,0,0.3,0.4,0.6,0.9,0.7, 0.4,0.2,0,0.1,0.4,0.8,0.3,0,0,0, 0,0,0,0,0,1.8,2.6,1.2,0.5,0.8, 0.3,0,0,0,0.5,1.1,0.4,0,0,0, 0,0,1.4,0.5,0,0,0,0,0,0, 0,0,0,0,0,0,0.4,0.9,0.3,0];
const rP14 = [0,0,0,0,0,0.2,0.3,0.4,0.6,0.5, 0.8,3.7,0.3,0,0,0,0,0,0,0, 0,0,0,0,0,4.0,1.5,0.6,0.3,0.6, 0.2,0,0,4.7,1.0,0,0,0,0,0, 0,0,0,0,0,1.5,0.6,0,0,0, 0,0,0,0,0,0,0,0,2.0,0.8];
const rP15 = [0,0,0,0,0,0.1,0.2,0.3,0.5,0.6, 0.3,0.4,0,0,0,3.7,0.6,0,0,0, 0,0,0,0,0,0.8,1.2,6.0,1.4,0.5, 0,0,0,0,0,0,0,0,0,0, 0,0,0,0,0,0,0,0,1.2,0.4, 0,0,0,0,0,0.3,0.8,0.5,0,0];
const rP16 = [0,0,0,0,0,0.3,0.6,0.5,0.4,0.9, 0.2,0.3,0,0,0,0,0,0,1.5,0.3, 0,0,0,0,0,0.5,0.9,0.4,0.8,1.6, 0.7,0.3,0,0,0,0,0.2,0.6,0.3,0, 0,0,0,0,0,0,0,0,0,0, 0,8.9,1.6,0.4,0,0,0,0,0,0];
const rP17 = [0,0,0,0,0,0.2,0.4,0.5,0.8,1.1, 0.4,0.5,0,0,0,0,0,0,0,0, 0,0,0,0,0,1.2,0.7,0.5,0.9,2.1, 0.8,0.4,0,0.6,6.3,0.9,0,0,0,0, 0,0,0,0,0,0,0,0,0,0, 0.3,0.9,0.4,0,0,0,0,0,0,0];
const rP18 = [0,0,0,0,0,0.1,0.3,0.6,0.7,0.5, 0.2,0.6,0,0,0,0,0,0,0,0, 0,0,0,0,0,0.6,0.8,0.4,0.3,0.5, 0.2,0,0,0,0,0,0,0,0,0, 0,0,0,0,0,0,0.5,1.1,6.9,0.8, 0.2,0,0,0,0,0,0,0,0,0];
const rP19 = [0,0,0,0,0,0.2,0.5,0.4,0.6,0.8, 0.3,0.2,0,0,0,0,0,0,0,0, 0,0,2.1,0.3,0,0.9,1.1,0.5,0.4,0.7, 0.3,0,0,0,0,0,0,7.3,1.2,0.2, 0,0,0,0,0,0,0,0,0,0, 0,0,0,0,0,0,0,0,5.9,1.0];
const rP20 = [0,0,0,0,0,0.3,0.4,0.5,0.6,0.7, 0.2,0.4,0,0,0,0,0,0,0,0, 0,0,0,0,0,0.7,0.9,0.6,0.5,0.8, 0.3,0,0,0.4,0.2,0,0,0,0,0, 0,0,0,0.6,0.3,0,0,0,0,0, 0,0,0.4,0.8,0.2,0,0,0,0,0];
const rP21 = [0,0,0,0,0,0.2,0.6,0.8,1.0,0.7, 0.3,0.4,0,0,0,0,0,0,0.5,0.8, 0.2,0,0,0,0,1.4,0.8,0.5,0.6,1.1, 0.5,0.2,0,0,0,0,0,0.3,0.8,0.5, 0,0,2.1,0.6,0,0,0,0,0,0, 0,0,0,0,1.2,0.5,0,0,0,0.9];
const rP22 = [0,0,0,0,0,0.1,0.4,0.5,0.8,0.6, 0.3,0.2,0,0,0,0,0,0,0,0, 0,0,0,3.0,0.4,0.9,0.7,0.4,0.3,0.6, 0.3,0,0,0,0,0,0,0,0,0, 0,0,0,0,0,0,6.9,0.9,0.3,0, 0,0,0,0,0,0,0,9.3,1.8,0.4];
const rP23 = [0,0,0,0,0,0.2,0.3,0.4,0.6,0.9, 0.4,0.3,0,0,0,0,0,0,0,0, 0,0,0,0,0,1.0,1.3,0.7,0.5,0.9, 0.4,0.6,1.2,0.3,0,0,0,0,0,0, 0,0.9,0.5,0,0,0,0,0,0,0, 0,0,0,0,0,0.5,0.7,0,0,0];
const rP24 = [0,0,0,0,0,0.3,0.5,2.2,0.5,0.8, 0.2,0.4,0,0,0,0,0,0,0,0, 0,0,0,0,0,0.6,0.9,0.4,0.6,1.0, 0.3,0,0,0,0,0,0,0,0,0, 0,0,0,0,0,0,0,0,0,0.6, 1.3,0.4,0,0,0,5.7,0.8,0.2,0,0];
const rP25 = [0,0,0,0,0,0.2,0.4,0.6,0.7,0.8, 0.3,0.5,0,0,0,0,0,0,0,0, 0,0,0,0,0,0.8,1.1,0.5,8.8,2.2, 0.5,0,0,1.6,0.4,0,0,0,0,0, 0,0,0,0,0,1.4,3.8,0.6,0,0, 0,0,0,0,0,0,0,1.2,0.4,0.6];
const rP26 = [0,0,0,0,0,0.1,0.3,0.5,0.4,0.6, 0.3,0.2,0,0,0,0,0,0,0,0, 0,0,0,0,0,0.7,0.6,0.4,0.5,0.8, 0.6,0.4,0.2,0.9,0.5,0,0,1.2,2.4,0.6, 0,0,0.8,1.9,0.5,0,0,0.3,1.1,0.4, 0,0,0.6,1.5,0.4,0,0,0.9,0.5,0];
const rP27 = [0,0,0,0,0,0.2,0.5,0.6,0.8,0.9, 0.4,0.6,0,0,0,0,0,0,0,0, 0,0,0,0,0,0.9,1.2,0.7,0.4,0.6, 0.3,0,0,0,0,1.2,0.5,0,0,0, 0,0,0,0,7.2,1.1,0.3,0,0,0, 0,0,0,0,0.8,2.2,0.5,0,0,0];
const rP28 = [0,0,0,0,0,0.3,0.5,0.4,0.6,0.7, 0.2,0.3,0,0,0,0,0,0,0,0, 0,0,0,0,0,0.6,0.8,0.5,0.3,0.7, 0.4,0.2,0,1.3,2.2,0.5,0,0,0.6,1.4, 0.5,0,0,0,1.8,3.1,0.7,0,0,0, 0,0,0.3,0.6,0.2,0,1.4,2.6,0.8,0];
const rP29 = [0,0,0,0,0,0.2,0.4,0.5,0.9,1.0, 0.3,0.4,0,0,0,0,0,0,0,0, 0,0,0,0,0,0.8,0.9,0.6,0.5,0.9, 0.4,0,0,0.7,0,1.6,2.9,0.8,0,0, 0,1.1,2.3,0.6,0,0,0,0,1.9,3.4, 0.9,0,0,0.6,0,0,0,0,1.3,0.5];
const rP30 = [0,0.3,0,0,0,0.1,0.3,0.4,0.6,0.5, 0.2,0.3,0,0,0,0,0,0,0,0, 0,0,0,0,0,0.5,0.7,0.4,0.3,0.5, 0.2,0,0,0,0.9,1.7,0.5,0,0,0, 0.8,2.4,0.6,0,0,0,1.2,0.4,0,0, 0,2.1,0.7,0,0,0,0,1.6,2.8,0.9];
const rP31 = [0,0,0,0,0,0.2,0.4,0.5,0.7,0.6, 0.3,0.2,0,0,0,0,0,0,0,0, 0,0,0,0,0,1.1,0.9,0.6,0.4,0.8, 0.3,0,0,0,0,0,0,0,0,0, 0,0,0,0,0,0,0,6.2,0.9,0.3, 0,0,0,0,0,0,0,0,0,0];
const rP32 = [0,0,0,0,0,0.1,0.3,0.6,0.5,0.7, 0.4,0.3,0,0,0,0,0,0,0,0, 0,0,0,0,0,0.7,1.0,0.4,0.6,1.3, 0.6,6.8,0.8,0.2,0,0,0,0,0,0, 0,0,1.1,0.4,0,0,0,0,0,0, 0,0,0,0,0,0,0.9,0.3,0,0];
const rP33 = [0,0,0,0,0,0.3,0.5,0.5,0.6,0.8, 0.3,0.2,0,0,0,0,3.7,0.4,0,0, 0,0,0,0,0,0.6,0.8,0.5,0.4,0.6, 0.3,0,0,1.8,0.6,0,0,0,0,0.9, 2.6,0.5,0,0,0,0,0,1.1,0.4,0, 0,0,0,0,1.5,3.2,0.8,0,0,0.6];
const rP34 = [0,0,0,0,0,0.2,0.4,0.7,0.6,0.9, 0.4,0.5,0,0,0,0,0,0,0,0, 0,0,0,0,0,2.0,1.1,0.6,0.4,0.8, 0.4,0,0,0,0,0,0,0,0,0, 0,0,0,0,0,0,0,0,6.2,0.9, 0,0,0,0,0,0,0,0,0,0];
const rP35 = [0,0,0,0,0,0.1,0.3,0.4,0.7,0.6, 0.2,0.3,0,0,0,0,0,0,0,0, 0,0,0,0,0,0.8,1.4,0.6,0.5,0.9, 6.8,0.9,0.3,0,0,0,0,0,0,0, 0,0,9.7,1.5,0.4,0,0,0,0,0, 0,0,0,0,0,0,0,0,0,0];
const rP36 = [0,0,0,0,0,0.2,0.4,0.5,0.6,0.7, 0.3,0.4,0,0,0,0,0,0,0,0, 0,0,0,0,0,0.6,1.0,0.5,0.4,0.7, 0.3,0,0,0,0,0,0,0,0,0, 0,0,0,0,0,0,0,0,0,0, 0,0.9,4.5,1.0,0.3,0,0,0,0,0];
const rP37 = [0,0,0,0,0,0.3,0.5,0.6,0.8,0.6, 0.2,0.3,0,0,0,0,0,0,0,0, 0,0,0,0,0,0.9,0.7,0.4,0.5,0.8, 0.2,0,0,0,0,0,1.9,0.7,0,0, 0,0,0,0,0,0,0,0,6.9,1.2, 0.3,0,0,0,0,0,0,0,1.6,0.6];
const rP38 = [0,0,0,0,0,0.2,0.3,0.4,0.5,0.8, 0.3,0.2,0,0,0,0,0,0,0,0, 0,0,2.1,0.2,0,0.7,0.8,0.5,0.3,0.6, 0.3,0,0,0,0,0,0,0,0,1.2, 0.5,0,0,0,0,0,0,0,0,0, 0,0,0,0,0,0,0,0.4,0.9,0.3];
const rP39 = [0,0,0,0,0,0.1,0.4,0.5,0.6,0.9, 0.3,0.4,0,0,0,0,0,0,0,0, 0,0,0,0,0,0.8,1.0,0.6,0.4,0.7, 0.3,0,0,0,2.1,0.8,0,0,1.4,0.5, 0,0,0,2.8,0.6,0,0,0,0,1.6, 0.9,0,0,0,0,0,2.2,0.7,0,0];
const rP40 = [0,0,0,0,0,0.2,0.3,0.4,0.5,0.6, 0.2,0.3,0,0,0,0,0,0,0,0, 0,0,0,0,0,0.6,0.7,0.5,0.3,0.5, 0.2,0,0,0,0,0,0,1.5,0.4,0, 0,0,0,0,0,0,0,0,0,0, 0,0,0,1.9,0.6,0,0,0,0,0];
const rP41 = [0,0,0,0,0,0.3,0.5,0.6,0.9,0.8, 0.4,0.5,0,0,0,0,0,0,0,0, 0,0,0,0,0,1.2,0.8,0.5,0.6,0.9, 0.4,0,0,1.5,0.6,0,0,0,0,0, 0,0,0,0,0,0,6.9,1.0,0.3,0, 0,0,0,0,0,0,0,2.1,0.8,0];
const rP42 = [0,0,0,0,0,0.2,0.4,0.5,0.7,0.6, 0.3,3.7,0.4,0,0,0,0,0,0,0, 0,0,0,0,0,0.9,0.6,0.4,0.3,0.8, 0.3,0,0,0,0,0,0,0,0,0, 0,0,0,0,0,0,0,0,0,0, 0,0,0,0,0,5.7,0.9,0.2,0,0];
const rP43 = [0,0,0,0,0,0.1,0.3,0.5,0.6,0.7, 0.2,0.4,0,0,0,0,0,0,0,0, 0,0,0,0,0,0.7,0.9,0.6,0.4,0.8, 0.5,0.3,0,1.2,0.4,0,0,0,2.3,0.7, 0,0,1.7,0.5,0,0,0,0,0,0.8, 1.9,0.6,0,0,0,0,0,0,1.1,0.3];
const rP44 = [0,0,0,0,0,0.2,0.4,0.6,0.5,0.8, 0.3,0.3,0,0,0,0,0,0,0,0, 0,0,0,0,0,0.8,1.1,0.5,0.3,0.7, 0.3,0,0,0,0,1.1,0.4,0,0,0, 0,0,1.6,0.5,0,0,0,0,0,0, 0,0,0,0,0,4.2,1.0,0,0,0];
const rP45 = [0,0,0,0,0,0.3,0.5,0.4,0.8,0.9, 0.4,0.3,0,0,0,0,0,0,0,0, 0,0,0,0,0,0.9,1.0,0.6,0.5,0.8, 0.4,0,5.3,0.8,0.3,0,0,0,0,0, 0,0,0,0,0,0,0,0,2.5,0.8, 0,0,0,0,0,0,0,1.4,0.5,0];
const rP46 = [0,0,0,0,0,0.2,0.4,0.5,0.7,0.6, 0.3,0.4,0,0,0,0,0,0,0,0, 0,0,0,0,0,0.7,0.8,0.4,0.5,0.9, 0.3,0,0,0,1.4,0.6,0,0,0,2.0, 0.6,0,0,0,0,1.3,0.4,0,0,0, 0,0,2.4,0.8,0,0,0,0,0.6,0];
const rP47 = [0,0,0,0,0,0.1,0.3,0.4,0.6,0.7, 0.2,0.3,0,0,0,0,0,0,0,0, 0,2.7,0.3,0,0,0.8,0.9,0.5,0.4,0.7, 0.3,0,0,0,0,0,1.8,0.7,0,0, 0,0,0,0.9,0.3,0,0,0,0,0, 0,0,0,0,0.7,1.5,0.4,0,0,0];
const rP48 = [0,0,0,0,0,0.2,0.5,0.6,0.7,0.8, 0.3,0.4,0,0,0,0,0,0,0,0, 0,0,0,0,0,0.6,0.7,0.4,0.3,0.6, 0.3,0,1.6,0.6,0,0,0,0,0,0, 0,0,0,0,0,0,0,0,0.9,0.3, 0,0,0,0,0,0,1.7,0.6,0,0.4];
const rP49 = [0,0,0,0,0,0.3,0.4,0.5,0.8,0.7, 0.4,0.3,0,0,0,0,0,0,0,0, 0,0,0,0,0,0.9,1.0,0.5,0.6,0.9, 0.4,0.2,0,0,0,0,0,2.4,0.9,0, 0,0,0,0,3.1,0.8,0,0,0,0, 0,0,1.3,0.4,0,0,0,0,0,1.6];
const rP50 = [0,0,0,0,0,0.2,0.4,0.6,0.7,0.9, 0.3,0.4,0,0,0,0,0,0,0,0, 0,0,0,0,0,0.8,0.9,0.6,0.4,0.8, 0.4,0,0,1.1,0.3,0,0,0,0,0, 1.5,0.5,0,0,0,0,2.1,0.6,0,0, 0,0,0,0,0,0.8,0.3,0,0.6,1.8];

const tempMembers = [tP1,tP2,tP3,tP4,tP5,tP6,tP7,tP8,tP9,tP10,tP11,tP12,tP13,tP14,tP15,tP16,tP17,tP18,tP19,tP20,tP21,tP22,tP23,tP24,tP25,tP26,tP27,tP28,tP29,tP30,tP31,tP32,tP33,tP34,tP35,tP36,tP37,tP38,tP39,tP40,tP41,tP42,tP43,tP44,tP45,tP46,tP47,tP48,tP49,tP50];
const precMembers = [rP1,rP2,rP3,rP4,rP5,rP6,rP7,rP8,rP9,rP10,rP11,rP12,rP13,rP14,rP15,rP16,rP17,rP18,rP19,rP20,rP21,rP22,rP23,rP24,rP25,rP26,rP27,rP28,rP29,rP30,rP31,rP32,rP33,rP34,rP35,rP36,rP37,rP38,rP39,rP40,rP41,rP42,rP43,rP44,rP45,rP46,rP47,rP48,rP49,rP50];

// ---------- chart ----------
const FONT = 'DejaVu Sans';
const MEAN_COLOR = '#ffffff';
const OPER_COLOR = '#1fe01f';
function pairs(arr){ return arr.map((v,k)=>[hours[k], v]); }

const series = [];
tempMembers.forEach((arr,k)=>{
  const c = memberColors[k % 20];
  series.push({name:'P'+(k+1), type:'line', yAxisIndex:0, data:pairs(arr), symbol:'none', silent:true,
    lineStyle:{width:1, color:c}, itemStyle:{color:c}, z:2,
    markLine: k===0 ? {silent:true, symbol:'none', label:{show:false}, lineStyle:{color:'#ffffff', width:1.5, type:'solid'}, data:[{yAxis:zeroLine}]} : undefined});
});
precMembers.forEach((arr,k)=>{
  const c = memberColors[k % 20];
  series.push({name:'P'+(k+1), type:'line', yAxisIndex:1, data:pairs(arr), symbol:'none', silent:true,
    lineStyle:{width:1, color:c}, itemStyle:{color:c}, z:2});
});
series.push({name:'Ens. mean', type:'line', yAxisIndex:0, data:pairs(meanT), symbol:'none', silent:true, lineStyle:{width:3, color:MEAN_COLOR}, itemStyle:{color:MEAN_COLOR}, z:5});
series.push({name:'Ens. mean', type:'line', yAxisIndex:1, data:pairs(meanP), symbol:'none', silent:true, lineStyle:{width:3, color:MEAN_COLOR}, itemStyle:{color:MEAN_COLOR}, z:5});
series.push({name:'Oper', type:'line', yAxisIndex:0, data:pairs(operT), symbol:'none', silent:true, lineStyle:{width:3.5, color:OPER_COLOR}, itemStyle:{color:OPER_COLOR}, z:6});
series.push({name:'Oper', type:'line', yAxisIndex:1, data:pairs(operP), symbol:'none', silent:true, lineStyle:{width:3.5, color:OPER_COLOR}, itemStyle:{color:OPER_COLOR}, z:6});

const leftNames = [], rightNames = [];
for (let k=1;k<=50;k++){ (k%2 ? leftNames : rightNames).push('P'+k); }
leftNames.push('Ens. mean'); rightNames.push('Oper');

const legendBase = {orient:'vertical', top:35, itemWidth:10, itemHeight:2, itemGap:2, padding:0, icon:'rect',
  textStyle:{color:'#ffffff', fontSize:11, fontFamily:FONT, lineHeight:13}, selectedMode:false};

const chart = echarts.init(document.getElementById('c'), null, {renderer:'canvas'});
chart.setOption({
  backgroundColor:'#000000',
  animation:false,
  textStyle:{fontFamily:FONT},
  title:[
    {text:'Brussels  (BE)  2m Temp. & Neerslag | Wed, 31Dec2025 00Z', left:162, top:2,
      textStyle:{color:'#ffffff', fontSize:16, fontWeight:'bold', fontFamily:FONT}},
    {text:'AIFS Ensemble, 50.75N, 4.25E', left:115, top:589, textStyle:{color:'#ffffff', fontSize:16, fontWeight:'normal', fontFamily:FONT}},
    {text:'Wetterzentrale.de', right:51, top:589, textStyle:{color:'#ffffff', fontSize:16, fontWeight:'normal', fontFamily:FONT}}
  ],
  legend:[
    Object.assign({left:2, data:leftNames}, legendBase),
    Object.assign({left:75, data:rightNames}, legendBase)
  ],
  grid:{left:163, right:40, top:30, bottom:60, outerBoundsMode:'none', containLabel:false,
    show:true, borderColor:'#dddddd', borderWidth:1, backgroundColor:'#000000'},
  xAxis:{type:'value', min:0, max:360, interval:24,
    name:'Date (UTC)', nameLocation:'middle', nameGap:26, nameTextStyle:{color:'#ffffff', fontSize:10, fontFamily:FONT},
    axisLine:{show:true, lineStyle:{color:'#dddddd'}}, axisTick:{show:false},
    axisLabel:{color:'#ffffff', fontSize:11, margin:7, fontFamily:FONT,
      formatter:(v)=> (v % 48 === 0 && xTickLabels[v/48]) ? xTickLabels[v/48] : ''},
    splitLine:{show:true, lineStyle:{color:'#4a4a4a', type:[4,3], width:1}}},
  yAxis:[
    {type:'value', min:-20, max:25, interval:5, position:'left',
      name:'2m Temp. (°C)', nameLocation:'middle', nameGap:27, nameRotate:90, nameMoveOverlap:false,
      nameTextStyle:{color:'#ffffff', fontSize:10, fontFamily:FONT},
      axisLine:{show:true, lineStyle:{color:'#dddddd'}}, axisTick:{show:false},
      axisLabel:{color:'#ffffff', fontSize:11, margin:8, fontFamily:FONT},
      splitLine:{show:true, lineStyle:{color:'#4a4a4a', type:[4,3], width:1}}},
    {type:'value', min:0, max:40, interval:10, position:'right',
      name:'Neerslag (mm)', nameLocation:'middle', nameGap:25, nameRotate:90, nameMoveOverlap:false,
      nameTextStyle:{color:'#ffffff', fontSize:10, fontFamily:FONT},
      axisLine:{show:true, lineStyle:{color:'#dddddd'}},
      axisTick:{show:true, inside:true, length:7, lineStyle:{color:'#ffffff'}},
      minorTick:{show:true, splitNumber:10, length:4, lineStyle:{color:'#ffffff'}},
      axisLabel:{color:'#ffffff', fontSize:11, margin:8, fontFamily:FONT},
      splitLine:{show:false}}
  ],
  series: series
});
</script>
</body></html>
